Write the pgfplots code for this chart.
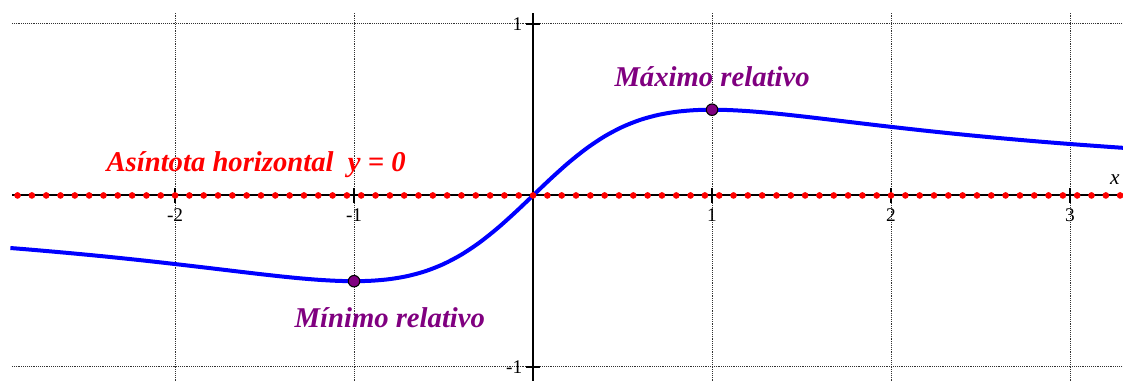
\documentclass[border=0pt]{standalone}
\usepackage{pgfplots}
\pgfplotsset{compat=1.18}
\usepackage{fontspec}
\setmainfont{Liberation Serif}
\definecolor{curveblue}{RGB}{0,0,255}
\definecolor{extremo}{RGB}{128,0,128}
\definecolor{asint}{RGB}{255,0,0}

\begin{document}
\begin{tikzpicture}
\useasboundingbox (-9pt,0) rectangle (833.25pt,285.75pt);
\begin{axis}[
  at={(0,0)}, anchor=south west,
  scale only axis, width=833.25pt, height=276pt,
  xmin=-2.911, xmax=3.296, ymin=-1.082, ymax=1.064,
  axis lines=middle,
  axis line style={-},
  x axis line style={line width=1.5pt},
  y axis line style={line width=2pt},
  xtick={-2,-1,1,2,3},
  xticklabels={-2,-1,1,2,3},
  ytick={-1,1},
  yticklabels={-1,1},
  grid=major,
  major grid style={densely dotted, black!80, line width=0.7pt},
  tick align=center,
  major tick length=11pt,
  tick style={black, line width=1pt},
  ticklabel style={font=\fontsize{14.5}{16}\selectfont},
  xticklabel style={yshift=-1pt},
  yticklabel style={xshift=1pt},
  clip=false,
]
% y = x/(x^2+1)
\addplot[curveblue, line width=3pt, smooth] coordinates {
  (-2.92,-0.3065) (-2.8,-0.3167) (-2.6,-0.3351) (-2.4,-0.3550) (-2.2,-0.3767)
  (-2.0,-0.4) (-1.8,-0.4245) (-1.6,-0.4494) (-1.5,-0.4615) (-1.4,-0.4730)
  (-1.3,-0.4833) (-1.2,-0.4918) (-1.1,-0.4977) (-1.0,-0.5) (-0.9,-0.4972)
  (-0.8,-0.4878) (-0.7,-0.4698) (-0.6,-0.4412) (-0.5,-0.4) (-0.4,-0.3448)
  (-0.3,-0.2752) (-0.2,-0.1923) (-0.1,-0.0990) (0,0)
  (0.1,0.0990) (0.2,0.1923) (0.3,0.2752) (0.4,0.3448) (0.5,0.4)
  (0.6,0.4412) (0.7,0.4698) (0.8,0.4878) (0.9,0.4972) (1.0,0.5)
  (1.1,0.4977) (1.2,0.4918) (1.3,0.4833) (1.4,0.4730) (1.5,0.4615)
  (1.6,0.4494) (1.8,0.4245) (2.0,0.4) (2.2,0.3767) (2.4,0.3550)
  (2.6,0.3351) (2.8,0.3167) (3.0,0.3) (3.2,0.2847) (3.296,0.2777)
};
% horizontal asymptote y = 0
\addplot[only marks, mark=*, mark size=2.25pt, color=asint] coordinates {
  (-2.88,0) (-2.80,0) (-2.72,0) (-2.64,0) (-2.56,0) (-2.48,0) (-2.40,0) (-2.32,0)
  (-2.24,0) (-2.16,0) (-2.08,0) (-2.00,0) (-1.92,0) (-1.84,0) (-1.76,0) (-1.68,0)
  (-1.60,0) (-1.52,0) (-1.44,0) (-1.36,0) (-1.28,0) (-1.20,0) (-1.12,0) (-1.04,0)
  (-0.96,0) (-0.88,0) (-0.80,0) (-0.72,0) (-0.64,0) (-0.56,0) (-0.48,0) (-0.40,0)
  (-0.32,0) (-0.24,0) (-0.16,0) (-0.08,0) (0.00,0) (0.08,0) (0.16,0) (0.24,0)
  (0.32,0) (0.40,0) (0.48,0) (0.56,0) (0.64,0) (0.72,0) (0.80,0) (0.88,0)
  (0.96,0) (1.04,0) (1.12,0) (1.20,0) (1.28,0) (1.36,0) (1.44,0) (1.52,0)
  (1.60,0) (1.68,0) (1.76,0) (1.84,0) (1.92,0) (2.00,0) (2.08,0) (2.16,0)
  (2.24,0) (2.32,0) (2.40,0) (2.48,0) (2.56,0) (2.64,0) (2.72,0) (2.80,0)
  (2.88,0) (2.96,0) (3.04,0) (3.12,0) (3.20,0) (3.28,0)
};
% relative extrema
\addplot[only marks, mark=*, mark size=4.3pt,
  mark options={fill=extremo, draw=black, line width=0.8pt}]
  coordinates {(-1,-0.5) (1,0.5)};

\node[font=\bfseries\itshape\fontsize{21.5}{24}\selectfont, text=extremo]
  at (axis cs:1,0.691) {Máximo relativo};
\node[font=\bfseries\itshape\fontsize{21.5}{24}\selectfont, text=extremo]
  at (axis cs:-0.80,-0.714) {Mínimo relativo};
\node[font=\bfseries\itshape\fontsize{21.5}{24}\selectfont, text=asint]
  at (axis cs:-1.547,0.178) {Asíntota horizontal\ \ y = 0};
\node[font=\itshape\fontsize{16}{18}\selectfont] at (axis cs:3.25,0.09) {x};
\end{axis}
\end{tikzpicture}
\end{document}
